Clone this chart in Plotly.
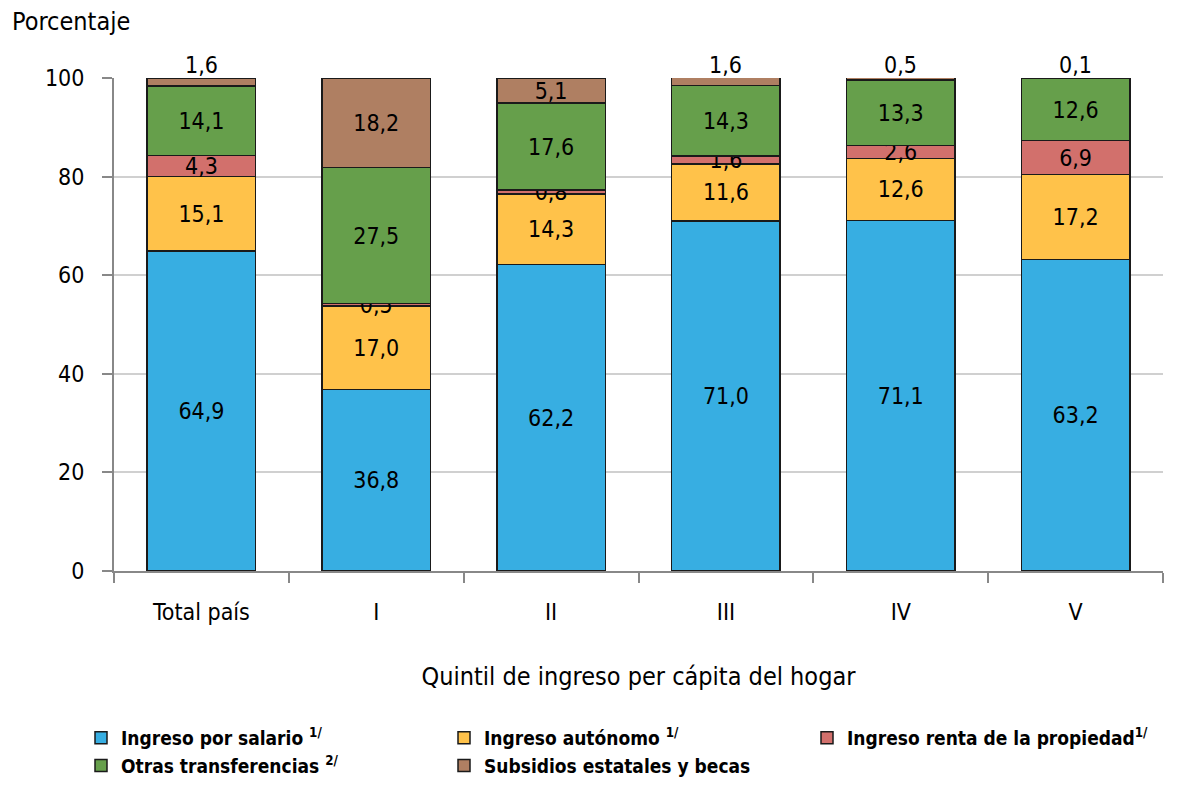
import plotly.graph_objects as go

categories = ["Total país", "I", "II", "III", "IV", "V"]
salario = [64.9, 36.8, 62.2, 71.0, 71.1, 63.2]
autonomo = [15.1, 17.0, 14.3, 11.6, 12.6, 17.2]
renta = [4.3, 0.5, 0.8, 1.6, 2.6, 6.9]
transferencias = [14.1, 27.5, 17.6, 14.3, 13.3, 12.6]
subsidios = [1.6, 18.2, 5.1, 1.6, 0.5, 0.1]

series = [
    ("<b>Ingreso por salario <sup>1/</sup></b>", salario, "#37AEE2"),
    ("<b>Ingreso autónomo <sup>1/</sup></b>", autonomo, "#FFC24A"),
    ("<b>Ingreso renta de la propiedad<sup>1/</sup></b>", renta, "#D2706C"),
    ("<b>Otras transferencias <sup>2/</sup></b>", transferencias, "#669F4B"),
    ("<b>Subsidios estatales y becas</b>", subsidios, "#AF7F62"),
]

FONT = "DejaVu Sans Condensed, Roboto Condensed, Roboto, Open Sans, sans-serif"
FS = 23

# the page body adds an 8px offset; margins compensate for it
L, R, T, B = 106, 33, 70, 227
PW, PH = 1188 - L - R, 790 - T - B

def fmt(v):
    return f"{v:.1f}".replace(".", ",")

fig = go.Figure()
annotations = []
for i, (name, vals, col) in enumerate(series):
    last = i == len(series) - 1
    texts = []
    for j, v in enumerate(vals):
        if last and v < 3:
            texts.append("")
            top = min(sum(s[1][j] for s in series), 100)
            annotations.append(dict(x=categories[j], y=top, xref="x", yref="y",
                                    text=fmt(v), showarrow=False, yanchor="bottom",
                                    yshift=-2, font=dict(family=FONT, size=FS, color="#000")))
        else:
            texts.append(fmt(v))
    fig.add_trace(go.Bar(
        x=categories, y=vals, name=name,
        marker=dict(color=col, line=dict(color="#1a1a1a", width=1.5)),
        text=texts, textposition="inside",
        insidetextanchor="middle",
        textfont=dict(family=FONT, size=FS, color="#000000"),
        cliponaxis=False,
        width=0.62,
    ))

annotations.append(dict(text="Porcentaje", x=(2 - L) / PW, y=(PH + T - 14) / PH, xref="paper", yref="paper",
                        xanchor="left", yanchor="middle", showarrow=False,
                        font=dict(family=FONT, size=25, color="#000")))

fig.update_layout(
    barmode="stack",
    width=1188, height=790,
    margin=dict(l=L, r=R, t=T, b=B, autoexpand=False),
    plot_bgcolor="white", paper_bgcolor="white",
    font=dict(family=FONT, size=FS, color="#000000"),
    uniformtext=dict(minsize=FS, mode="show"),
    legend=dict(
        orientation="h", x=(73 - L) / PW, xref="paper", y=(PH + T - 711) / PH, yref="paper",
        xanchor="left", yanchor="top",
        entrywidth=318, entrywidthmode="pixels",
        font=dict(family=FONT, size=19, color="#000000"),
        traceorder="normal", itemwidth=30, tracegroupgap=0,
    ),
    xaxis=dict(
        showline=True, linecolor="#888888", linewidth=2,
        ticks="outside", tickson="boundaries", ticklen=10, tickcolor="#888888", tickwidth=2,
        tickfont=dict(family=FONT, size=FS),
        ticklabelstandoff=19,
        automargin=False,
        title=dict(text="Quintil de ingreso per cápita del hogar", font=dict(family=FONT, size=25), standoff=44),
    ),
    yaxis=dict(
        range=[0, 100], tickvals=[0, 20, 40, 60, 80, 100],
        showline=True, linecolor="#888888", linewidth=2,
        ticks="outside", ticklen=10, tickcolor="#888888", tickwidth=2,
        showgrid=True, gridcolor="#D0D0D0", gridwidth=1.5,
        tickfont=dict(family=FONT, size=FS),
        ticklabelstandoff=13,
        automargin=False,
        zeroline=False,
    ),
    annotations=annotations,
)
fig.write_html("out.html")
